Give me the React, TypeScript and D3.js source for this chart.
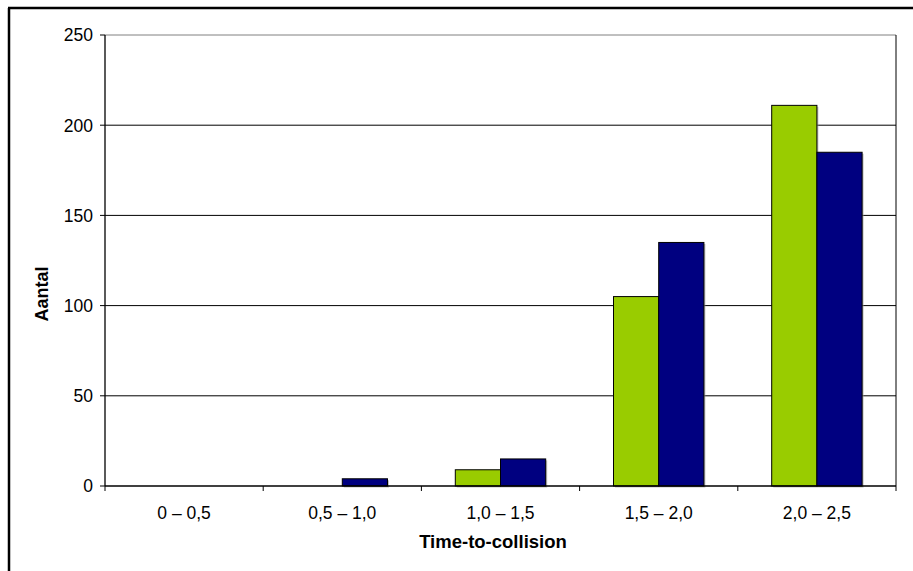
import React from "react";
import * as d3 from "d3";

const categories = ["0 – 0,5", "0,5 – 1,0", "1,0 – 1,5", "1,5 – 2,0", "2,0 – 2,5"];
const seriesGreen = [0, 0, 9, 105, 211];
const seriesNavy = [0, 4, 15, 135, 185];
const yTicks = [0, 50, 100, 150, 200, 250];
const xTitle = "Time-to-collision";
const yTitle = "Aantal";

export default function App() {
  const W = 913, H = 571;
  const L = 105, R = 896, T = 35, B = 486;
  const x = d3.scaleBand<string>().domain(categories).range([L, R]);
  const y = d3.scaleLinear().domain([0, 250]).range([B, T]);
  const bw = x.bandwidth() / 3.5;
  const off = bw * 0.75;
  const font = "'Liberation Sans', Arial, sans-serif";
  const series = [
    { vals: seriesGreen, color: "#99CC00" },
    { vals: seriesNavy, color: "#000080" },
  ];
  return (
    <svg width={W} height={H} style={{ position: "absolute", left: 0, top: 0, background: "#fff" }}>
      <rect x={0} y={0} width={W} height={H} fill="#fff" />
      <line x1={8} y1={8} x2={913} y2={8} stroke="#000" strokeWidth={2.5} />
      <line x1={9} y1={8} x2={9} y2={571} stroke="#000" strokeWidth={2.5} />
      {yTicks.filter(t => t > 0).map(t => (
        <line key={t} x1={L} x2={R} y1={y(t)} y2={y(t)} stroke={t === 250 ? "#808080" : "#000"} strokeWidth={1} />
      ))}
      <line x1={R} x2={R} y1={T} y2={B} stroke="#000" strokeWidth={1} />
      {categories.map((c, i) => series.map((s, j) => {
        const v = s.vals[i];
        if (v <= 0) return null;
        const bx = (x(c) as number) + off + j * bw;
        return (
          <g key={c + j}>
            <rect x={bx + 1.5} y={y(v) + 1.5} width={bw} height={B - y(v)} fill="#9a9a9a" opacity={0.6} />
            <rect x={bx} y={y(v)} width={bw} height={B - y(v)} fill={s.color} stroke="#000" strokeWidth={1} />
          </g>
        );
      }))}
      <line x1={L} x2={L} y1={T} y2={B} stroke="#000" strokeWidth={1.3} />
      <line x1={L} x2={R} y1={B} y2={B} stroke="#000" strokeWidth={1.3} />
      {yTicks.map(t => (
        <g key={t}>
          <line x1={L - 5} x2={L} y1={y(t)} y2={y(t)} stroke="#000" />
          <text x={93} y={y(t)} dy="0.36em" textAnchor="end" fontFamily={font} fontSize={17.5} fill="#000">{t}</text>
        </g>
      ))}
      {categories.map((c, i) => (
        <g key={c}>
          <line x1={(x(c) as number) + x.bandwidth()} x2={(x(c) as number) + x.bandwidth()} y1={B} y2={B + 5} stroke="#000" />
          {i === 0 && <line x1={L} x2={L} y1={B} y2={B + 5} stroke="#000" />}
          <text x={(x(c) as number) + x.bandwidth() / 2} y={519} textAnchor="middle" fontFamily={font} fontSize={17.5} fill="#000">{c}</text>
        </g>
      ))}
      <text x={493} y={548} textAnchor="middle" fontFamily={font} fontSize={18.5} fontWeight="bold" fill="#000">{xTitle}</text>
      <text transform={`translate(48,294) rotate(-90)`} textAnchor="middle" fontFamily={font} fontSize={18} fontWeight="bold" fill="#000">{yTitle}</text>
    </svg>
  );
}
